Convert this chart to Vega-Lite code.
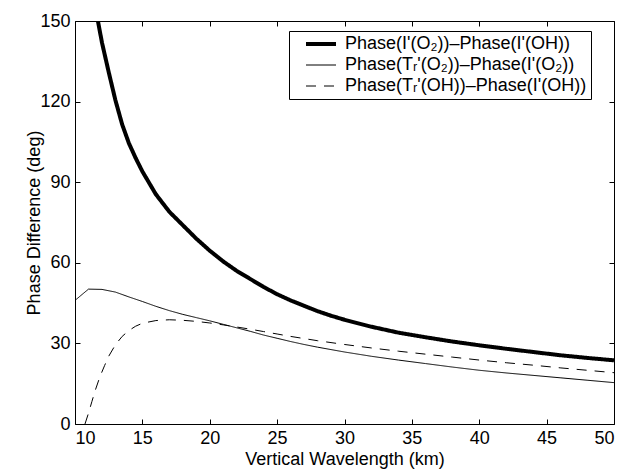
{
  "$schema": "https://vega.github.io/schema/vega-lite/v6.json",
  "autosize": {"type": "none"},
  "padding": {"left": 75, "top": 21, "right": 21, "bottom": 48},
  "width": 539,
  "height": 403,
  "background": "white",
  "config": {
    "font": "Liberation Sans",
    "view": {"stroke": "black", "strokeWidth": 1},
    "axis": {
      "grid": false,
      "domain": false,
      "tickSize": -5,
      "tickColor": "black",
      "tickWidth": 1,
      "labelFont": "Liberation Sans",
      "labelFontSize": 18,
      "labelColor": "black",
      "titleFont": "Liberation Sans",
      "titleFontSize": 18,
      "titleFontWeight": "normal",
      "titleColor": "black"
    },
    "legend": {
      "orient": "none",
      "legendX": 214,
      "legendY": 10,
      "strokeColor": "black",
      "fillColor": "white",
      "padding": 4,
      "symbolType": "M0.8,0H6.8",
      "symbolSize": 100,
      "symbolStrokeColor": "black",
      "symbolFillColor": "transparent",
      "labelFont": "Liberation Sans",
      "labelFontSize": 18,
      "labelColor": "black",
      "labelOffset": 34,
      "rowPadding": 3,
      "labelLimit": 400
    }
  },
  "data": {
    "values": [
      {"s": "A", "x": 11.7, "y": 150},
      {"s": "A", "x": 12, "y": 142},
      {"s": "A", "x": 12.5, "y": 131},
      {"s": "A", "x": 13, "y": 120.5},
      {"s": "A", "x": 13.5, "y": 111.5},
      {"s": "A", "x": 14, "y": 104.5},
      {"s": "A", "x": 14.5, "y": 99},
      {"s": "A", "x": 15, "y": 94},
      {"s": "A", "x": 16, "y": 85.5},
      {"s": "A", "x": 17, "y": 79},
      {"s": "A", "x": 18, "y": 74},
      {"s": "A", "x": 19, "y": 69},
      {"s": "A", "x": 20, "y": 64.5},
      {"s": "A", "x": 21, "y": 60.5},
      {"s": "A", "x": 22, "y": 57},
      {"s": "A", "x": 23, "y": 54},
      {"s": "A", "x": 24, "y": 51},
      {"s": "A", "x": 25, "y": 48.3},
      {"s": "A", "x": 26, "y": 46},
      {"s": "A", "x": 27, "y": 44},
      {"s": "A", "x": 28, "y": 42},
      {"s": "A", "x": 29, "y": 40.3},
      {"s": "A", "x": 30, "y": 38.8},
      {"s": "A", "x": 32, "y": 36.2},
      {"s": "A", "x": 34, "y": 34},
      {"s": "A", "x": 36, "y": 32.3},
      {"s": "A", "x": 38, "y": 30.7},
      {"s": "A", "x": 40, "y": 29.3},
      {"s": "A", "x": 42, "y": 28},
      {"s": "A", "x": 44, "y": 26.8},
      {"s": "A", "x": 46, "y": 25.6},
      {"s": "A", "x": 48, "y": 24.6},
      {"s": "A", "x": 50, "y": 23.7},
      {"s": "B", "x": 10, "y": 46},
      {"s": "B", "x": 11, "y": 50.2},
      {"s": "B", "x": 12, "y": 50.1},
      {"s": "B", "x": 13, "y": 49.1},
      {"s": "B", "x": 14, "y": 47.3},
      {"s": "B", "x": 15, "y": 45.6},
      {"s": "B", "x": 16, "y": 43.8},
      {"s": "B", "x": 17, "y": 42.2},
      {"s": "B", "x": 18, "y": 40.8},
      {"s": "B", "x": 19, "y": 39.6},
      {"s": "B", "x": 20, "y": 38.4},
      {"s": "B", "x": 21, "y": 37.1},
      {"s": "B", "x": 22, "y": 35.8},
      {"s": "B", "x": 23, "y": 34.5},
      {"s": "B", "x": 24, "y": 33.1},
      {"s": "B", "x": 25, "y": 31.9},
      {"s": "B", "x": 26, "y": 30.7},
      {"s": "B", "x": 27, "y": 29.6},
      {"s": "B", "x": 28, "y": 28.6},
      {"s": "B", "x": 30, "y": 26.8},
      {"s": "B", "x": 32, "y": 25.2},
      {"s": "B", "x": 34, "y": 23.8},
      {"s": "B", "x": 36, "y": 22.5},
      {"s": "B", "x": 38, "y": 21.2},
      {"s": "B", "x": 40, "y": 20},
      {"s": "B", "x": 42, "y": 19},
      {"s": "B", "x": 44, "y": 18.1},
      {"s": "B", "x": 46, "y": 17.2},
      {"s": "B", "x": 48, "y": 16.3},
      {"s": "B", "x": 50, "y": 15.4},
      {"s": "C", "x": 10.74, "y": 0},
      {"s": "C", "x": 11, "y": 4},
      {"s": "C", "x": 11.25, "y": 8.3},
      {"s": "C", "x": 11.5, "y": 12.5},
      {"s": "C", "x": 11.85, "y": 17.6},
      {"s": "C", "x": 12.2, "y": 21.8},
      {"s": "C", "x": 12.5, "y": 25.2},
      {"s": "C", "x": 13, "y": 29.5},
      {"s": "C", "x": 13.5, "y": 32.6},
      {"s": "C", "x": 14, "y": 34.8},
      {"s": "C", "x": 14.5, "y": 36.4},
      {"s": "C", "x": 15, "y": 37.5},
      {"s": "C", "x": 16, "y": 38.5},
      {"s": "C", "x": 17, "y": 38.8},
      {"s": "C", "x": 18, "y": 38.6},
      {"s": "C", "x": 19, "y": 38.2},
      {"s": "C", "x": 20, "y": 37.6},
      {"s": "C", "x": 21, "y": 36.9},
      {"s": "C", "x": 22, "y": 36.1},
      {"s": "C", "x": 23, "y": 35.3},
      {"s": "C", "x": 24, "y": 34.4},
      {"s": "C", "x": 25, "y": 33.5},
      {"s": "C", "x": 26, "y": 32.6},
      {"s": "C", "x": 27, "y": 31.8},
      {"s": "C", "x": 28, "y": 31},
      {"s": "C", "x": 30, "y": 29.6},
      {"s": "C", "x": 32, "y": 28.3},
      {"s": "C", "x": 34, "y": 27.1},
      {"s": "C", "x": 36, "y": 26},
      {"s": "C", "x": 38, "y": 24.9},
      {"s": "C", "x": 40, "y": 23.8},
      {"s": "C", "x": 42, "y": 22.8},
      {"s": "C", "x": 44, "y": 21.9},
      {"s": "C", "x": 46, "y": 20.9},
      {"s": "C", "x": 48, "y": 20},
      {"s": "C", "x": 50, "y": 19.1}
    ]
  },
  "layer": [
    {
      "mark": {"type": "line", "stroke": "black", "clip": true},
      "encoding": {
        "x": {
          "field": "x", "type": "quantitative",
          "scale": {"domain": [10, 50], "nice": false, "zero": false},
          "axis": {"values": [10, 15, 20, 25, 30, 35, 40, 45, 50], "title": "Vertical Wavelength (km)", "labelPadding": 10, "titlePadding": 3}
        },
        "y": {
          "field": "y", "type": "quantitative",
          "scale": {"domain": [0, 150], "nice": false},
          "axis": {"values": [0, 30, 60, 90, 120, 150], "title": "Phase Difference (deg)", "labelPadding": 10, "titlePadding": -4}
        },
        "strokeDash": {
          "field": "s", "type": "nominal",
          "scale": {"domain": ["A", "B", "C"], "range": [[1, 0], [1, 0], [10, 8]]},
          "legend": {
            "title": null,
            "labelExpr": "datum.value == 'A' ? \"Phase(I'(O₂))–Phase(I'(OH))\" : datum.value == 'B' ? \"Phase(Tᵣ'(O₂))–Phase(I'(O₂))\" : \"Phase(Tᵣ'(OH))–Phase(I'(OH))\""
          }
        },
        "strokeWidth": {
          "field": "s", "type": "nominal",
          "scale": {"type": "ordinal", "domain": ["A", "B", "C"], "range": [4, 1, 1]},
          "legend": {"title": null}
        }
      }
    },
    {
      "mark": {"type": "point", "opacity": 0},
      "encoding": {
        "x": {
          "field": "x", "type": "quantitative",
          "axis": {"orient": "top", "values": [10, 15, 20, 25, 30, 35, 40, 45, 50], "labels": false, "title": null}
        },
        "y": {
          "field": "y", "type": "quantitative",
          "axis": {"orient": "right", "values": [0, 30, 60, 90, 120, 150], "labels": false, "title": null}
        }
      }
    }
  ],
  "resolve": {"axis": {"x": "independent", "y": "independent"}}
}
